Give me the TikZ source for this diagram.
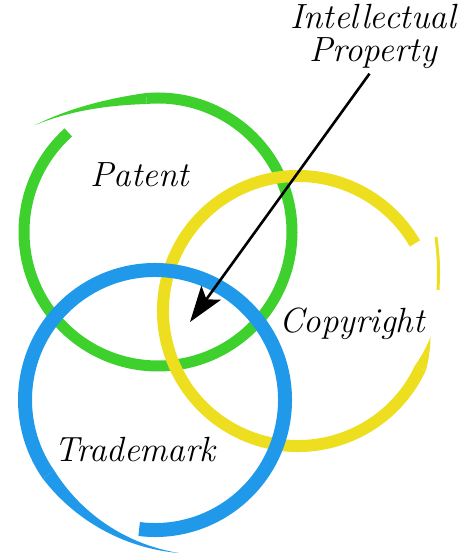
\documentclass[tikz,border=0pt]{standalone}
\usepackage{fontspec}
\usetikzlibrary{arrows.meta}

\definecolor{patentgreen}{RGB}{62,208,45}
\definecolor{copyyellow}{RGB}{238,222,32}
\definecolor{tradeblue}{RGB}{33,153,235}

\tikzset{
  hand/.style={font={\fontsize{35}{33}\selectfont\itshape}, inner sep=0pt},
  pointer/.style={line width=2.6pt, -{Stealth[length=36pt,width=24pt,inset=8pt]}}
}

% tapered end of a brush ring: colour, centre x, centre y, from angle, to angle, from radius, to radius, width
\newcommand{\brushtail}[8]{%
  \fill[#1] plot[domain=#4:#5, samples=30]
    ({#2+(#6+(#7-#6)*((\x-(#4))/(#5-(#4)))^2+#8/2*(1-(\x-(#4))/(#5-(#4))))*cos(\x)},
     {#3+(#6+(#7-#6)*((\x-(#4))/(#5-(#4)))^2+#8/2*(1-(\x-(#4))/(#5-(#4))))*sin(\x)})
    -- plot[domain=#5:#4, samples=30]
    ({#2+(#6+(#7-#6)*((\x-(#4))/(#5-(#4)))^2-#8/2*(1-(\x-(#4))/(#5-(#4))))*cos(\x)},
     {#3+(#6+(#7-#6)*((\x-(#4))/(#5-(#4)))^2-#8/2*(1-(\x-(#4))/(#5-(#4))))*sin(\x)})
    -- cycle;}

\begin{document}
\begin{tikzpicture}[x=1pt,y=1pt]
    \useasboundingbox (0,0) rectangle (470,559);
    % patent
    \draw[patentgreen, line width=11pt] (158,327) ++(132:134pt) arc[start angle=132, end angle=455, radius=134pt];
    \brushtail{patentgreen}{158}{327}{455}{499}{134}{163}{11}
    % copyright
    \draw[copyyellow, line width=12pt] (298,248) ++(-25:135pt) arc[start angle=-25, end angle=-330, radius=135pt];
    \brushtail{copyyellow}{298}{248}{-25}{-11}{135}{135}{12}
    \draw[copyyellow, line width=3pt] (436,322) to[bend left=5] (438,269);
    % trademark
    \draw[tradeblue, line width=14pt] (155,159) ++(-97:130pt) arc[start angle=-97, end angle=215, radius=130pt];
    \brushtail{tradeblue}{155}{159}{215}{279}{130}{155}{14}
    % labels
    \node[hand, anchor=base] (patent) at (140,372) {Patent};
    \node[hand, anchor=base] (copyright) at (352,226) {Copyright};
    \node[hand, anchor=base] (trademark) at (135,97) {Trademark};
    \node[hand, align=center, anchor=north] (ip) at (373,555) {Intellectual\\Property};
    \coordinate (core) at (190,237);
    \draw[pointer, shorten <=6pt] (ip.south) -- (core);
\end{tikzpicture}
\end{document}
